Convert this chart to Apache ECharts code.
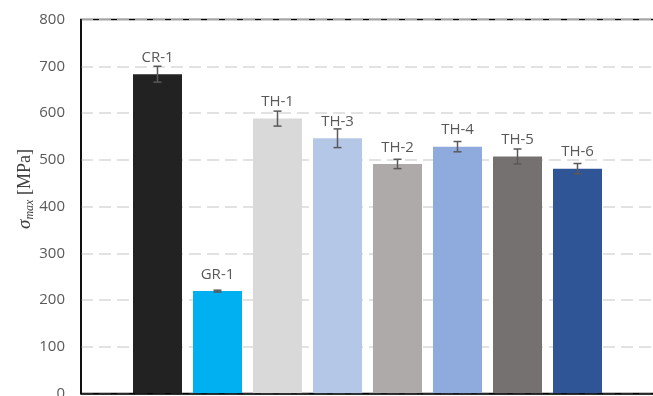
<!DOCTYPE html>
<html>
<head>
<meta charset="utf-8">
<script src="https://cdn.jsdelivr.net/npm/echarts@6/dist/echarts.min.js"></script>
<style>html,body{margin:0;padding:0;background:#fff;}#c{width:653px;height:396px;}</style>
</head>
<body>
<div id="c"></div>
<script>
var categories = ['CR-1', 'GR-1', 'TH-1', 'TH-3', 'TH-2', 'TH-4', 'TH-5', 'TH-6'];
var values = [683, 219, 588, 546, 491, 528, 507, 481];
var errors = [17, 2, 16, 20, 10, 11, 16, 11];
var colors = ['#222222', '#00B0F0', '#D9D9D9', '#B4C7E7', '#AEAAAA', '#8FAADC', '#767171', '#2F5597'];
var yTicks = { min: 0, max: 800, interval: 100 };

var chart = echarts.init(document.getElementById('c'), null, { renderer: 'canvas' });
var barData = values.map(function (v, i) {
  return { value: v, itemStyle: { color: colors[i] } };
});
var errData = values.map(function (v, i) { return [i, v - errors[i], v + errors[i]]; });

chart.setOption({
  animation: false,
  grid: [
    { left: 81, top: 19.5, height: 374, right: -10, show: true, borderColor: '#000', borderWidth: 1.5,
      backgroundColor: 'transparent', containLabel: false, outerBoundsMode: 'none' },
    { left: 127.5, top: 19.5, height: 374, width: 480, containLabel: false, outerBoundsMode: 'none' }
  ],
  xAxis: [
    { gridIndex: 0, type: 'value', min: 0, max: 1, z: 5,
      axisLine: { show: true, onZero: false, lineStyle: { color: '#000', width: 1.5 } },
      axisTick: { show: false }, axisLabel: { show: false }, splitLine: { show: false } },
    { gridIndex: 1, type: 'category', data: categories,
      axisLine: { show: false }, axisTick: { show: false }, axisLabel: { show: false } }
  ],
  yAxis: [
    { gridIndex: 0, type: 'value', min: yTicks.min, max: yTicks.max, interval: yTicks.interval,
      axisLine: { show: true, lineStyle: { color: '#000', width: 1.5 } },
      axisTick: { show: false },
      axisLabel: { color: '#595959', fontSize: 15, fontFamily: 'Open Sans', margin: 16 },
      splitLine: { show: true, lineStyle: { color: '#D9D9D9', width: 1.5, type: [12, 6] } } },
    { gridIndex: 1, type: 'value', min: yTicks.min, max: yTicks.max, show: false, splitLine: { show: false } }
  ],
  graphic: [{
    type: 'text', x: 25, y: 189, rotation: Math.PI / 2,
    style: {
      text: '{s|σ}{sub|max}{u| [MPa]}',
      align: 'center', verticalAlign: 'middle',
      rich: {
        s: { fontFamily: 'Liberation Serif', fontStyle: 'italic', fontSize: 19, fill: '#404040', lineHeight: 22 },
        sub: { fontFamily: 'Liberation Serif', fontStyle: 'italic', fontSize: 12, fill: '#404040', verticalAlign: 'bottom', lineHeight: 16 },
        u: { fontFamily: 'Liberation Serif', fontSize: 18, fill: '#404040', lineHeight: 22 }
      }
    }
  }],
  series: [
    { type: 'bar', xAxisIndex: 1, yAxisIndex: 1, barWidth: 49, data: barData, z: 2,
      label: { show: true, position: 'top', distance: 9, formatter: '{b}', color: '#595959', fontSize: 15, fontFamily: 'Open Sans' } },
    { type: 'custom', xAxisIndex: 1, yAxisIndex: 1, data: errData, z: 3,
      renderItem: function (params, api) {
        var x = api.value(0);
        var lo = api.coord([x, api.value(1)]);
        var hi = api.coord([x, api.value(2)]);
        var w = 4;
        var st = { stroke: '#595959', lineWidth: 1.5 };
        return { type: 'group', children: [
          { type: 'line', shape: { x1: lo[0], y1: lo[1], x2: hi[0], y2: hi[1] }, style: st },
          { type: 'line', shape: { x1: hi[0] - w, y1: hi[1], x2: hi[0] + w, y2: hi[1] }, style: st },
          { type: 'line', shape: { x1: lo[0] - w, y1: lo[1], x2: lo[0] + w, y2: lo[1] }, style: st }
        ] };
      } }
  ]
});
</script>
</body>
</html>
